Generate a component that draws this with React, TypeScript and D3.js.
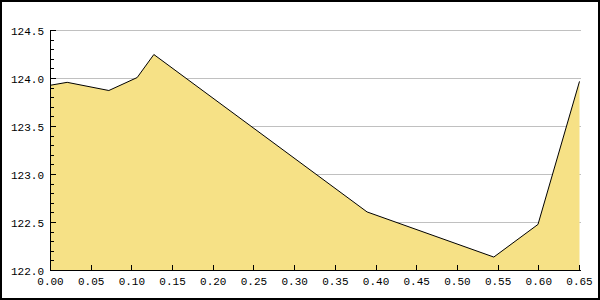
import React from "react";
import * as d3 from "d3";

const xValues = [0, 0.0205, 0.0717, 0.1065, 0.127, 0.389, 0.5447, 0.599, 0.65];
const yValues = [123.93, 123.96, 123.875, 124.01, 124.25, 122.61, 122.14, 122.48, 123.97];
const xTicks = [0, 0.05, 0.1, 0.15, 0.2, 0.25, 0.3, 0.35, 0.4, 0.45, 0.5, 0.55, 0.6, 0.65];
const yTicks = [122.0, 122.5, 123.0, 123.5, 124.0, 124.5];
const yMinorTicks = d3.range(122.1, 124.5, 0.1).map((v) => +v.toFixed(1)).filter((v) => Math.round(v * 10) % 5 !== 0);

const W = 600;
const H = 300;

export default function App() {
  const x = d3.scaleLinear().domain([0, 0.65]).range([50.5, 579.5]);
  const y = d3.scaleLinear().domain([122, 124.5]).range([270.5, 30.5]);
  const data = xValues.map((v, i) => [v, yValues[i]] as [number, number]);
  const area = d3
    .area<[number, number]>()
    .x((d) => x(d[0]))
    .y0(y(122))
    .y1((d) => y(d[1]));
  const line = d3
    .line<[number, number]>()
    .x((d) => x(d[0]))
    .y((d) => y(d[1]));
  const font = "'Liberation Mono', monospace";
  return (
    <svg
      width={W}
      height={H}
      style={{ position: "absolute", left: 0, top: 0, display: "block" }}
    >
      <rect x={0} y={0} width={W} height={H} fill="#fff" />
      {yTicks
        .filter((t) => t > 122)
        .map((t) => (
          <line
            key={"g" + t}
            x1={50}
            x2={581}
            y1={y(t)}
            y2={y(t)}
            stroke="#c0c0c0"
            strokeWidth={1}
            shapeRendering="crispEdges"
          />
        ))}
      <path d={area(data) || ""} fill="#f6e186" stroke="none" />
      <path d={line(data) || ""} fill="none" stroke="#000" strokeWidth={1} />
      <line x1={50.5} x2={50.5} y1={30} y2={271} stroke="#000" shapeRendering="crispEdges" />
      <line x1={50} x2={581} y1={270.5} y2={270.5} stroke="#000" shapeRendering="crispEdges" />
      {yTicks.map((t) => (
        <g key={"yt" + t}>
          <line x1={50} x2={56} y1={y(t)} y2={y(t)} stroke="#000" shapeRendering="crispEdges" />
          <text
            x={44}
            y={y(t) + 4}
            textAnchor="end"
            fontFamily={font}
            fontSize={11}
            fill="#000"
          >
            {t.toFixed(1)}
          </text>
        </g>
      ))}
      {yMinorTicks.map((t) => (
        <line key={"ym" + t} x1={50} x2={54} y1={Math.round(y(t) - 0.5) + 0.5} y2={Math.round(y(t) - 0.5) + 0.5} stroke="#000" shapeRendering="crispEdges" />
      ))}
      {xTicks.map((t) => (
        <g key={"xt" + t}>
          <line
            x1={Math.floor(x(t)) + 0.5}
            x2={Math.floor(x(t)) + 0.5}
            y1={265}
            y2={271}
            stroke="#000"
            shapeRendering="crispEdges"
          />
          <text
            x={x(t)}
            y={285}
            textAnchor="middle"
            fontFamily={font}
            fontSize={11}
            fill="#000"
          >
            {t.toFixed(2)}
          </text>
        </g>
      ))}
      <rect x={1} y={1} width={W - 2} height={H - 2} fill="none" stroke="#000" strokeWidth={2} />
    </svg>
  );
}
